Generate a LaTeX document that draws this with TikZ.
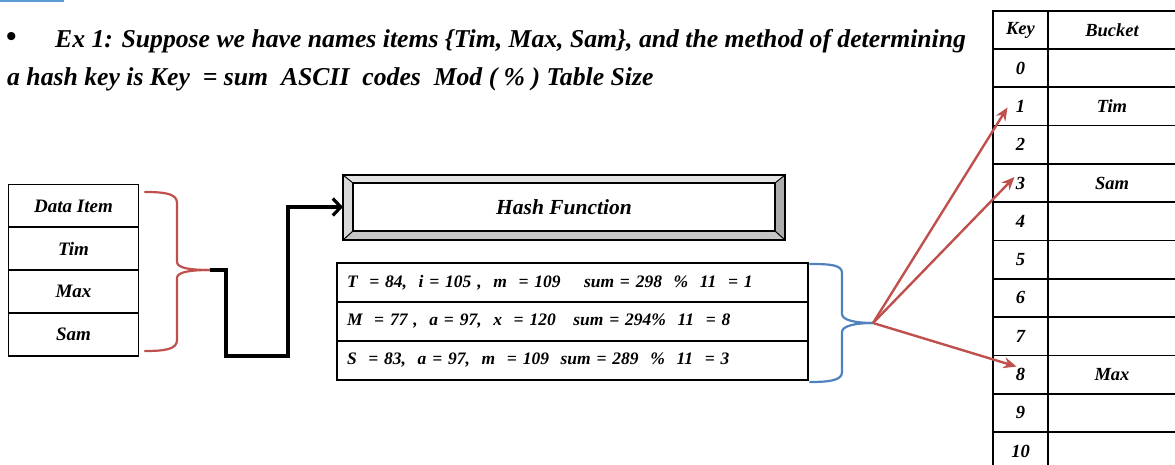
\documentclass[tikz,border=0pt]{standalone}
\usepackage{fontspec}
\setmainfont{Liberation Serif}
\usetikzlibrary{arrows.meta}
\definecolor{bracered}{RGB}{192,80,77}
\definecolor{braceblue}{RGB}{79,129,189}
\definecolor{rulerblue}{RGB}{91,155,213}

\begin{document}
\begin{tikzpicture}[x=1pt,y=-1pt,
  bi/.style={font=\fontsize{#1}{#1}\selectfont\bfseries\itshape},
  cell/.style={draw, line width=1.8pt, inner sep=0pt, bi=18.5},
  itemcell/.style={cell, bi=19, minimum width=130pt, minimum height=43pt},
  rescell/.style={cell, bi=17.5, minimum width=471pt, minimum height=39pt, text width=451pt, align=left},
  keycell/.style={cell, minimum width=55pt, minimum height=38.3pt},
  bucketcell/.style={cell, minimum width=128pt, minimum height=38.3pt},
  brace/.style={line width=2.2pt, line cap=round},
  flow/.style={line width=3.6pt, -{Straight Barb[length=8pt,width=17pt,line width=3.2pt]}},
  hashto/.style={draw=bracered, line width=2.4pt, -{Stealth[length=13pt,width=11pt]}}
]
\useasboundingbox (0,0) rectangle (1175,465);

% short rule at the top edge
\draw[rulerblue, line width=2.2pt] (0,1) -- (64,1);

% heading
\node[anchor=base west, inner sep=0pt, font=\fontsize{30}{30}\selectfont\bfseries] (bul) at (6,47) {\textbullet};
\node[anchor=base west, inner sep=0pt, bi=25.7] (head1) at (55,48)
  {Ex 1: Suppose we have names items \{Tim, Max, Sam\}, and the method of determining};
\node[anchor=base west, inner sep=0pt, bi=25.7] (head2) at (7,86)
  {a hash key is Key\ \ = sum\ \ ASCII\ \ codes\ \ Mod ( \% ) Table Size};

% data items
\node[itemcell] (d0) at (73.5,206)   {Data Item};
\node[itemcell] (d1) at (73.5,248.5) {Tim};
\node[itemcell] (d2) at (73.5,291.5) {Max};
\node[itemcell] (d3) at (73.5,334.5) {Sam};

% red brace gathering the items
\coordinate (rtip) at (210,270);
\draw[brace, bracered] (145,192) .. controls (166,192) and (177,194) .. (177,203)
  -- (177,262) .. controls (177,268) and (190,270) .. (rtip);
\draw[brace, bracered] (145,351) .. controls (166,351) and (177,349) .. (177,340)
  -- (177,278) .. controls (177,272) and (190,270) .. (rtip);

% hash function box with bevelled frame
\coordinate (hA) at (343,175); \coordinate (hB) at (785,175);
\coordinate (hC) at (785,240); \coordinate (hD) at (343,240);
\coordinate (ha) at (353,183); \coordinate (hb) at (775,183);
\coordinate (hc) at (775,231); \coordinate (hd) at (353,231);
\fill[gray!22] (hA) -- (hB) -- (hb) -- (ha) -- cycle;
\fill[gray!30] (hA) -- (ha) -- (hd) -- (hD) -- cycle;
\fill[gray!65] (hB) -- (hC) -- (hc) -- (hb) -- cycle;
\fill[gray!45] (hD) -- (hd) -- (hc) -- (hC) -- cycle;
\draw[line width=1pt] (hA) -- (ha) (hB) -- (hb) (hC) -- (hc) (hD) -- (hd);
\draw[line width=1.2pt] (ha) rectangle (hc);
\draw[line width=2.2pt] (hA) rectangle (hC);
\node[bi=21.5] (hash) at (564,207.5) {Hash Function};
\coordinate (hin) at (343,207);

% flow from the items to the hash function
\draw[flow] (rtip) -- (226,270) -- (226,356) -- (288,356) -- (288,207) -- (hin);

% computed keys
\node[rescell] (r1) at (572.5,282.5) {T\ \ = 84,\ \ i = 105 ,\ \ m\ \ = 109\ \ \ \ sum = 298\ \ \%\ \ 11\ \ = 1};
\node[rescell] (r2) at (572.5,321.5) {M\ \ = 77 ,\ \ a = 97,\ \ x\ \ = 120\ \ \ sum = 294\%\ \ 11\ \ = 8};
\node[rescell] (r3) at (572.5,360.5) {S\ \ = 83,\ \ a = 97,\ \ m\ \ = 109\ \ sum = 289\ \ \%\ \ 11\ \ = 3};

% blue brace gathering the results
\coordinate (btip) at (873,323);
\draw[brace, braceblue] (810,264) .. controls (831,264) and (842,265) .. (842,273)
  -- (842,314) .. controls (842,320) and (855,323) .. (btip);
\draw[brace, braceblue] (810,382) .. controls (831,382) and (842,380) .. (842,372)
  -- (842,332) .. controls (842,326) and (855,323) .. (btip);

% hash table
\node[keycell] (kh) at (1020.5,30) {Key};
\node[bucketcell] (bh) at (1112,30) {Bucket};
\foreach \k/\v in {0/,1/Tim,2/,3/Sam,4/,5/,6/,7/,8/Max,9/,10/} {
  \node[keycell] (k\k) at (1020.5,{68.15+38.3*\k}) {\k};
  \node[bucketcell] (b\k) at (1112,{68.15+38.3*\k}) {\v};
}

% keys pointing into their slots
\draw[hashto] (btip) -- ([xshift=-13pt,yshift=-1pt]k1.center);
\draw[hashto] (btip) -- ([xshift=-6pt,yshift=6pt]k3.center);
\draw[hashto] (btip) -- ([xshift=-4pt,yshift=8pt]k8.center);
\end{tikzpicture}
\end{document}
